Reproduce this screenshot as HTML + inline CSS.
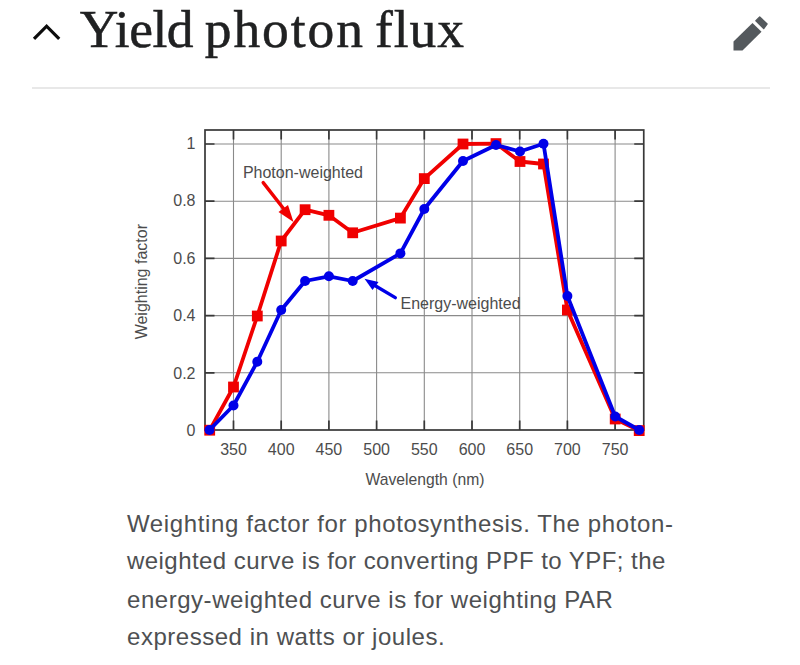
<!DOCTYPE html>
<html>
<head>
<meta charset="utf-8">
<style>
html,body{margin:0;padding:0;background:#fff;width:800px;height:665px;overflow:hidden;}
body{position:relative;font-family:"Liberation Sans",sans-serif;}
.h{position:absolute;top:-1px;font-family:"Liberation Serif",serif;font-size:53.5px;-webkit-text-stroke:0.5px #202122;color:#202122;white-space:nowrap;line-height:60px;}
.sep{position:absolute;left:31.5px;top:87px;width:738.5px;height:2px;background:#e8e8e8;}
.cap{position:absolute;left:127px;color:#4e5052;font-size:24px;white-space:nowrap;line-height:30px;}
svg{position:absolute;left:0;top:0;}
</style>
</head>
<body>
<svg width="800" height="665" viewBox="0 0 800 665">
  <!-- chevron -->
  <polyline points="34,38.8 46.6,26.2 59.2,38.8" fill="none" stroke="#0c0c0c" stroke-width="3.2"/>
  <!-- pencil -->
  <g fill="#54595d">
    <polygon points="733.5,50.5 733.5,41.5 752.5,23 761.5,31.8 742.5,50.5"/>
    <polygon points="755.9,20.8 759.7,17.0 767.1,23.9 763.7,28.6" stroke="#54595d" stroke-width="1.4" stroke-linejoin="round"/>
  </g>
</svg>
<div class="h" style="left:79.7px;letter-spacing:-0.5px">Yield</div><div class="h" style="left:204.8px;letter-spacing:1.9px">photon</div><div class="h" style="left:375px;letter-spacing:0.92px">flux</div>
<div class="sep"></div>

<svg width="800" height="665" viewBox="0 0 800 665" style="font-family:'Liberation Sans',sans-serif;">
  <g stroke="#8a8a8a" stroke-width="1.1" fill="none">
    <line x1="233.5" y1="130" x2="233.5" y2="430"/>
    <line x1="281.2" y1="130" x2="281.2" y2="430"/>
    <line x1="328.9" y1="130" x2="328.9" y2="430"/>
    <line x1="376.6" y1="130" x2="376.6" y2="430"/>
    <line x1="424.3" y1="130" x2="424.3" y2="430"/>
    <line x1="472.0" y1="130" x2="472.0" y2="430"/>
    <line x1="519.7" y1="130" x2="519.7" y2="430"/>
    <line x1="567.4" y1="130" x2="567.4" y2="430"/>
    <line x1="615.1" y1="130" x2="615.1" y2="430"/>
    <line x1="205" y1="372.8" x2="643.75" y2="372.8"/>
    <line x1="205" y1="315.6" x2="643.75" y2="315.6"/>
    <line x1="205" y1="258.4" x2="643.75" y2="258.4"/>
    <line x1="205" y1="201.2" x2="643.75" y2="201.2"/>
    <line x1="205" y1="144.0" x2="643.75" y2="144.0"/>
  </g>
  <g stroke="#383838" stroke-width="1.7" fill="none">
    <path d="M233.5 130v9.5M281.2 130v9.5M328.9 130v9.5M376.6 130v9.5M424.3 130v9.5M472 130v9.5M519.7 130v9.5M567.4 130v9.5M615.1 130v9.5"/>
    <path d="M233.5 430v-9.5M281.2 430v-9.5M328.9 430v-9.5M376.6 430v-9.5M424.3 430v-9.5M472 430v-9.5M519.7 430v-9.5M567.4 430v-9.5M615.1 430v-9.5"/>
    <path d="M205 372.8h9.5M205 315.6h9.5M205 258.4h9.5M205 201.2h9.5M205 144h9.5"/>
    <path d="M643.75 372.8h-9.5M643.75 315.6h-9.5M643.75 258.4h-9.5M643.75 201.2h-9.5M643.75 144h-9.5"/>
    <rect x="205" y="130" width="438.75" height="300"/>
  </g>
  <g fill="#4c4c4c" font-size="16" text-anchor="end">
    <text x="195.5" y="148.9">1</text>
    <text x="195.5" y="206.3">0.8</text>
    <text x="195.5" y="263.8">0.6</text>
    <text x="195.5" y="321.3">0.4</text>
    <text x="195.5" y="378.7">0.2</text>
    <text x="195.5" y="436.1">0</text>
  </g>
  <g fill="#4c4c4c" font-size="16" text-anchor="middle">
    <text x="233.5" y="455.3">350</text>
    <text x="281.2" y="455.3">400</text>
    <text x="328.9" y="455.3">450</text>
    <text x="376.6" y="455.3">500</text>
    <text x="424.3" y="455.3">550</text>
    <text x="472.0" y="455.3">600</text>
    <text x="519.7" y="455.3">650</text>
    <text x="567.4" y="455.3">700</text>
    <text x="615.1" y="455.3">750</text>
    <text x="425" y="485.3" font-size="15.7">Wavelength (nm)</text>
    <text transform="translate(146.6,281.7) rotate(-90)">Weighting factor</text>
  </g>
  <g fill="#4c4c4c" font-size="16">
    <text x="242.9" y="177.8">Photon-weighted</text>
    <text x="400.5" y="309">Energy-weighted</text>
  </g>
  <!-- photon arrow -->
  <g stroke="#f00000" fill="#f00000">
    <line x1="263.2" y1="182.6" x2="285" y2="210.5" stroke-width="3.4" stroke-linecap="round"/>
    <polygon points="293.5,222 278.5,212 288,205" stroke="none"/>
  </g>
  <!-- energy arrow -->
  <g stroke="#0000e8" fill="#0000e8">
    <line x1="395.3" y1="297.6" x2="374" y2="285" stroke-width="3.4" stroke-linecap="round"/>
    <polygon points="364.5,278.8 378.5,282 372.5,290" stroke="none"/>
  </g>
  <!-- red curve -->
  <polyline fill="none" stroke="#f00000" stroke-width="3.8" stroke-linejoin="round"
    points="209.7,430.2 233.5,387 257.3,316 281.2,241 305.1,209.7 328.9,215.3 352.7,232.8 400.4,218.1 424.3,178.6 463,144 496,143.6 520,161.5 543.5,164 567.4,310 615.2,419 639.2,430.6"/>
  <g fill="#f00000">
    <rect x="204.3" y="424.8" width="10.8" height="10.8"/>
    <rect x="228.1" y="381.6" width="10.8" height="10.8"/>
    <rect x="251.9" y="310.6" width="10.8" height="10.8"/>
    <rect x="275.8" y="235.6" width="10.8" height="10.8"/>
    <rect x="299.7" y="204.3" width="10.8" height="10.8"/>
    <rect x="323.5" y="209.9" width="10.8" height="10.8"/>
    <rect x="347.3" y="227.4" width="10.8" height="10.8"/>
    <rect x="395.0" y="212.7" width="10.8" height="10.8"/>
    <rect x="418.9" y="173.2" width="10.8" height="10.8"/>
    <rect x="457.6" y="138.6" width="10.8" height="10.8"/>
    <rect x="490.6" y="138.2" width="10.8" height="10.8"/>
    <rect x="514.6" y="156.1" width="10.8" height="10.8"/>
    <rect x="538.1" y="158.6" width="10.8" height="10.8"/>
    <rect x="562.0" y="304.6" width="10.8" height="10.8"/>
    <rect x="609.8" y="413.6" width="10.8" height="10.8"/>
    <rect x="633.8" y="425.2" width="10.8" height="10.8"/>
  </g>
  <!-- blue curve -->
  <polyline fill="none" stroke="#0000e8" stroke-width="3.8" stroke-linejoin="round"
    points="209.5,430 233.5,405.5 257.3,361.7 281.2,310 305.1,281 328.9,276.3 352.7,281 400.4,253.4 424.3,209 463,161 496,145 520,151.5 543.5,143.8 567.4,296 615.2,416.5 639.2,430"/>
  <g fill="#0000e8">
    <circle cx="209.5" cy="430" r="5"/>
    <circle cx="233.5" cy="405.5" r="5"/>
    <circle cx="257.3" cy="361.7" r="5"/>
    <circle cx="281.2" cy="310" r="5"/>
    <circle cx="305.1" cy="281" r="5"/>
    <circle cx="328.9" cy="276.3" r="5"/>
    <circle cx="352.7" cy="281" r="5"/>
    <circle cx="400.4" cy="253.4" r="5"/>
    <circle cx="424.3" cy="209" r="5"/>
    <circle cx="463" cy="161" r="5"/>
    <circle cx="496" cy="145" r="5"/>
    <circle cx="520" cy="151.5" r="5"/>
    <circle cx="543.5" cy="143.8" r="5"/>
    <circle cx="567.4" cy="296" r="5"/>
    <circle cx="615.2" cy="416.5" r="5"/>
    <circle cx="639.2" cy="430" r="5"/>
  </g>
</svg>

<div class="cap" style="top:509px;letter-spacing:0.62px">Weighting factor for photosynthesis. The photon-</div>
<div class="cap" style="top:546px;letter-spacing:0.45px">weighted curve is for converting PPF to YPF; the</div>
<div class="cap" style="top:585px;letter-spacing:0.54px">energy-weighted curve is for weighting PAR</div>
<div class="cap" style="top:622px;letter-spacing:0.53px">expressed in watts or joules.</div>
</body>
</html>
